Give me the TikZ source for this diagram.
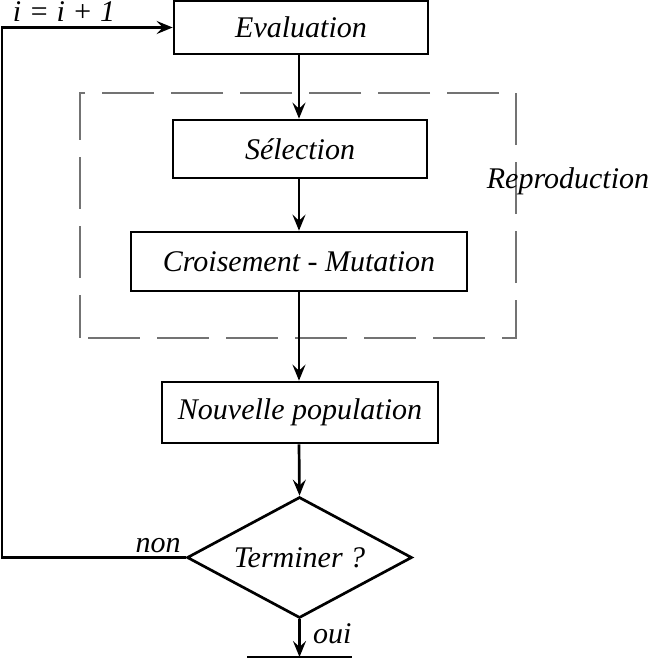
\documentclass[tikz,border=0pt]{standalone}
\usepackage{fontspec}
\setmainfont{Liberation Serif}
\usetikzlibrary{arrows.meta,shapes.geometric}
\begin{document}
\begin{tikzpicture}[x=1pt,y=-1pt,
  every node/.style={font=\fontsize{30}{36}\selectfont\itshape},
  box/.style={draw,line width=2.7pt,inner sep=0pt},
  conn/.style={line width=2.7pt},
  arr/.style={conn,-{Stealth[length=16pt,width=13pt,inset=6pt]}},
  lbl/.style={inner sep=0pt,anchor=base}]
\useasboundingbox (0,0) rectangle (650,658);
\node[draw=black!55,line width=1.3pt,dash pattern=on 52pt off 17pt,dash phase=61pt,
  minimum width=436pt,minimum height=245pt] (repro) at (298,215.5) {};
\node[box,minimum width=254pt,minimum height=53pt] (eval) at (301,27.5) {Evaluation};
\node[box,minimum width=254pt,minimum height=58pt] (sel) at (300,149) {Sélection};
\node[box,minimum width=336pt,minimum height=59pt] (cross) at (299,261.5) {Croisement - Mutation};
\node[box,minimum width=276pt,minimum height=61pt] (nouv) at (300,412.5) {Nouvelle population};
\node[draw,line width=2.7pt,shape=diamond,aspect=1.86,inner sep=0pt,
  minimum width=225pt,minimum height=121pt] (term) at (299.5,557.5) {Terminer ?};
\node[lbl] (rlab) at (568,188) {Reproduction};
\node[lbl] (ilab) at (64,22) {i = i + 1};
\node[lbl] (nlab) at (158,552) {non};
\node[lbl,anchor=base west] (olab) at (313,643) {oui};
\coordinate (bl) at (247,657);
\coordinate (br) at (352,657);
\coordinate (bot) at (299.5,657);
\coordinate (loopc) at (2,557.5);
\draw[arr] (eval.south -| 299,0) -- (sel.north -| 299,0);
\draw[arr] (sel.south -| 299,0) -- (cross.north -| 299,0);
\draw[arr] (cross.south -| 299,0) -- (nouv.north -| 299,0);
\draw[arr] (nouv.south -| 299,0) -- (term.north);
\draw[arr] (term.south) -- (bot);
\draw[conn] (bl) -- (br);
\draw[arr] (term.west) -- (loopc) |- (eval.west);
\end{tikzpicture}
\end{document}
